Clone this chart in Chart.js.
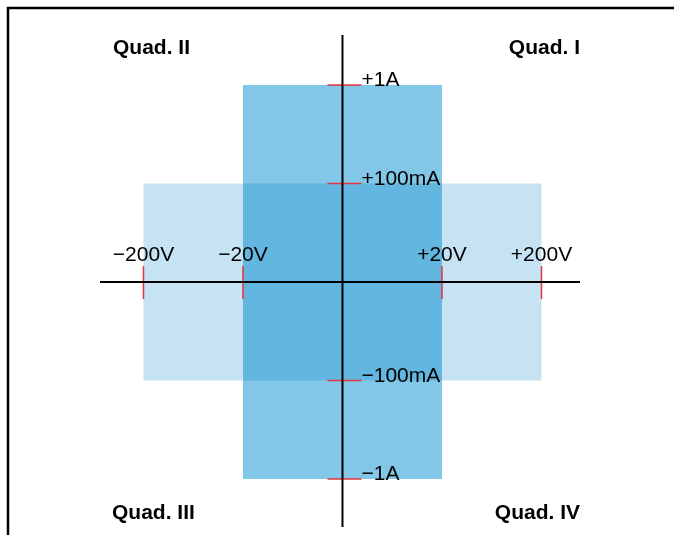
<!DOCTYPE html>
<html>
<head>
<meta charset="utf-8">
<script src="https://cdn.jsdelivr.net/npm/chart.js@4.4.1/dist/chart.umd.min.js"></script>
<style>
  body { margin: 0; background: #fff; }
  canvas { display: block; }
</style>
</head>
<body>
<canvas id="quad" width="674" height="535"></canvas>
<script>
// axis positions are in decades from the origin: 20V / 100mA = 1, 200V / 1A = 2
const xTickLabels = ['−200V', '−20V', '+20V', '+200V'];
const xTickPos = [-2, -1, 1, 2];
const yTickLabels = ['+1A', '+100mA', '−100mA', '−1A'];
const yTickPos = [2, 1, -1, -2];

// operating regions, half width (voltage) and half height (current) in decades
const regionNames = ['±20V / ±1A', '±200V / ±100mA'];
const regionHalfX = [1, 2];
const regionHalfY = [2, 1];
const regionColors = ['#82c7e7', '#c6e3f4'];
const overlapColor = '#62b6df';

const quadNames = ['Quad. I', 'Quad. II', 'Quad. III', 'Quad. IV'];

function box(hx, hy) {
    return [
        {x: -hx, y: -hy}, {x: hx, y: -hy}, {x: hx, y: hy}, {x: -hx, y: hy}, {x: -hx, y: -hy}
    ];
}

let datasets = [];
// overlap first so it sits on top
datasets.push({
    label: 'overlap',
    data: box(Math.min(...regionHalfX), Math.min(...regionHalfY)),
    showLine: true, fill: 'shape', borderWidth: 0, pointRadius: 0,
    backgroundColor: overlapColor, borderColor: overlapColor
});
for (let i = 0; i < regionNames.length; i++) {
    datasets.push({
        label: regionNames[i],
        data: box(regionHalfX[i], regionHalfY[i]),
        showLine: true, fill: 'shape', borderWidth: 0, pointRadius: 0,
        backgroundColor: regionColors[i], borderColor: regionColors[i]
    });
}

const FONT = '"Liberation Sans", Arial, Helvetica, sans-serif';

const axesPlugin = {
    id: 'axes',
    afterDatasetsDraw(chart) {
        const ctx = chart.ctx;
        const xs = chart.scales.x, ys = chart.scales.y;
        const area = chart.chartArea;
        const x0 = xs.getPixelForValue(0), y0 = ys.getPixelForValue(0);

        ctx.save();
        // red tick marks
        ctx.strokeStyle = '#e3343f';
        ctx.lineWidth = 1.5;
        ctx.beginPath();
        xTickPos.forEach(v => {
            const px = xs.getPixelForValue(v);
            ctx.moveTo(px, y0 - 16);
            ctx.lineTo(px, y0 + 17);
        });
        yTickPos.forEach(v => {
            const py = ys.getPixelForValue(v);
            ctx.moveTo(x0 - 15, py);
            ctx.lineTo(x0 + 19, py);
        });
        ctx.stroke();

        // axes
        ctx.strokeStyle = '#000';
        ctx.lineWidth = 2;
        ctx.beginPath();
        ctx.moveTo(area.left, y0);
        ctx.lineTo(area.right, y0);
        ctx.moveTo(x0, area.top);
        ctx.lineTo(x0, area.bottom);
        ctx.stroke();

        // tick labels
        ctx.fillStyle = '#000';
        ctx.font = '21px ' + FONT;
        ctx.textBaseline = 'alphabetic';
        ctx.textAlign = 'center';
        xTickPos.forEach((v, i) => {
            ctx.fillText(xTickLabels[i], xs.getPixelForValue(v), y0 - 21);
        });
        ctx.textAlign = 'left';
        yTickPos.forEach((v, i) => {
            ctx.fillText(yTickLabels[i], x0 + 19, ys.getPixelForValue(v) + 1);
        });

        // quadrant names
        ctx.font = 'bold 21px ' + FONT;
        ctx.textAlign = 'right';
        ctx.fillText(quadNames[0], 580, 54);
        ctx.fillText(quadNames[3], 580, 519);
        ctx.textAlign = 'left';
        ctx.fillText(quadNames[1], 113, 54);
        ctx.fillText(quadNames[2], 112, 519);

        // frame
        ctx.lineWidth = 2.5;
        ctx.beginPath();
        ctx.moveTo(8, 535);
        ctx.lineTo(8, 8);
        ctx.lineTo(674, 8);
        ctx.stroke();
        ctx.restore();
    }
};

const chart = new Chart(document.getElementById('quad').getContext('2d'), {
    type: 'scatter',
    data: { datasets: datasets },
    options: {
        responsive: false,
        animation: false,
        devicePixelRatio: 1,
        layout: { padding: { left: 100, right: 94, top: 35, bottom: 8 } },
        elements: { line: { tension: 0 } },
        plugins: { legend: { display: false }, tooltip: { enabled: false } },
        scales: {
            x: { type: 'linear', min: -2.437, max: 2.387, display: false },
            y: { type: 'linear', min: -2.487, max: 2.508, display: false }
        }
    },
    plugins: [axesPlugin]
});
</script>
</body>
</html>
